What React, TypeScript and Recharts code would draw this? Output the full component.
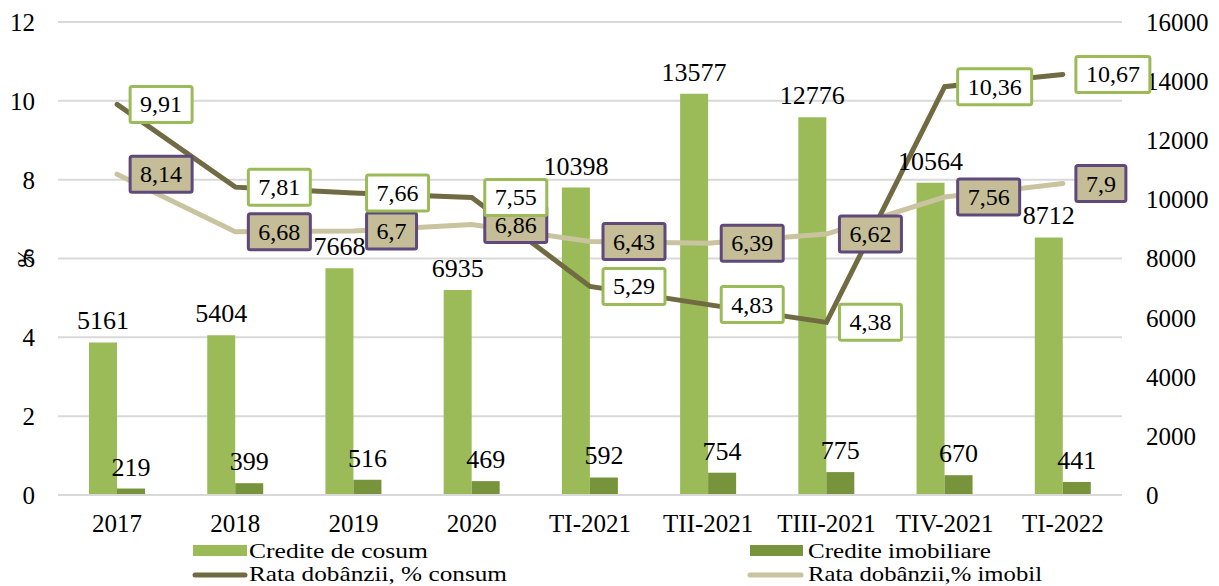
import React from 'react';
import { ComposedChart, Bar, Line, XAxis, YAxis, CartesianGrid, LabelList } from 'recharts';

// ---------------- DATA ----------------
const periods = ['2017', '2018', '2019', '2020', 'TI-2021', 'TII-2021', 'TIII-2021', 'TIV-2021', 'TI-2022'];
const crediteConsum = [5161, 5404, 7668, 6935, 10398, 13577, 12776, 10564, 8712];
const crediteImobiliare = [219, 399, 516, 469, 592, 754, 775, 670, 441];
const rataConsum = [9.91, 7.81, 7.66, 7.55, 5.29, 4.83, 4.38, 10.36, 10.67];
const rataImobil = [8.14, 6.68, 6.7, 6.86, 6.43, 6.39, 6.62, 7.56, 7.9];
const leftTicks = [0, 2, 4, 6, 8, 10, 12];
const rightTicks = [0, 2000, 4000, 6000, 8000, 10000, 12000, 14000, 16000];

const data = periods.map((p, i) => ({
  name: p,
  consum: crediteConsum[i],
  imob: crediteImobiliare[i],
  rConsum: rataConsum[i],
  rImob: rataImobil[i],
}));

// ---------------- STYLE ----------------
const FONT = '"Liberation Serif", serif';
const C_LIGHT = '#9BBB59';
const C_DARK = '#77933C';
const C_LINE1 = '#716B44';
const C_LINE2 = '#C9C3A0';

const fmt = (v: number) => String(v).replace('.', ',');

// boxed label to the right of a line point
const BoxLabel = ({ x, y, value, fill, stroke }: any) => {
  if (x == null || y == null) return null;
  const txt = fmt(value);
  let w = 0;
  for (const ch of txt) w += ch === ',' ? 6 : 12;
  const bw = w + 20;
  const bx = x + 13;
  return (
    <g>
      <rect x={bx} y={y - 18} width={bw} height={36} fill={fill} stroke={stroke} strokeWidth={3} rx={2} />
      <text x={bx + bw / 2} y={y + 8} textAnchor="middle" fontFamily={FONT} fontSize={24} fill="#000">
        {txt}
      </text>
    </g>
  );
};

const tickStyle = { fill: '#000', fontSize: 25, fontFamily: FONT };

export default function App() {
  return (
    <div style={{ position: 'absolute', left: 0, top: 0, width: 1219, height: 586, background: '#fff' }}>
      <ComposedChart
        width={1219}
        height={586}
        data={data}
        margin={{ top: 22, right: 0, bottom: 51, left: 0 }}
        barSize={28}
        barGap={0}>
        <CartesianGrid horizontal vertical={false} stroke="#D9D9D9" strokeWidth={2} yAxisId="left" />
        <XAxis
          dataKey="name"
          axisLine={{ stroke: '#D9D9D9', strokeWidth: 2 }}
          tickLine={false}
          tickSize={0}
          tickMargin={19}
          height={40}
          tick={tickStyle}
          interval={0}
        />
        <YAxis
          yAxisId="left"
          domain={[0, 12]}
          ticks={leftTicks}
          width={58}
          axisLine={false}
          tickLine={false}
          tickSize={0}
          tickMargin={23}
          tick={tickStyle}
        />
        <YAxis
          yAxisId="right"
          orientation="right"
          domain={[0, 16000]}
          ticks={rightTicks}
          width={97}
          axisLine={false}
          tickLine={false}
          tickSize={0}
          tickMargin={24}
          tick={{ ...tickStyle, textAnchor: 'start' }}
        />
        <Bar yAxisId="right" dataKey="consum" fill={C_LIGHT} isAnimationActive={false}>
          <LabelList dataKey="consum" position="top" offset={13} fill="#000" fontSize={26} fontFamily={FONT} />
        </Bar>
        <Bar yAxisId="right" dataKey="imob" fill={C_DARK} isAnimationActive={false}>
          <LabelList dataKey="imob" position="top" offset={13} fill="#000" fontSize={26} fontFamily={FONT} />
        </Bar>
        <Line
          yAxisId="left"
          dataKey="rImob"
          stroke={C_LINE2}
          strokeWidth={5}
          dot={false}
          strokeLinecap="round"
          isAnimationActive={false}
          label={(p: any) => <BoxLabel {...p} fill="#C4BD97" stroke="#5F497A" />}
        />
        <Line
          yAxisId="left"
          dataKey="rConsum"
          stroke={C_LINE1}
          strokeWidth={5}
          dot={false}
          strokeLinecap="round"
          isAnimationActive={false}
          label={(p: any) => <BoxLabel {...p} fill="#FFFFFF" stroke={C_LIGHT} />}
        />
      </ComposedChart>

      {/* axis title + legend */}
      <svg
        width={1219}
        height={586}
        style={{ position: 'absolute', left: 0, top: 0, pointerEvents: 'none' }}
        fontFamily={FONT}
        fontSize={21}>
        <text x={25} y={266} fontSize={23} textAnchor="middle" transform="rotate(-90 25 258)" fill="#000">
          %
        </text>
        <rect x={193} y={545} width={54} height={11} fill={C_LIGHT} />
        <text x={249} y={558} textLength={179} lengthAdjust="spacingAndGlyphs" fill="#000">
          Credite de cosum
        </text>
        <rect x={750} y={545} width={53} height={11} fill={C_DARK} />
        <text x={808} y={558} textLength={183} lengthAdjust="spacingAndGlyphs" fill="#000">
          Credite imobiliare
        </text>
        <line x1={195} y1={575} x2={245} y2={575} stroke={C_LINE1} strokeWidth={5} strokeLinecap="round" />
        <text x={249} y={581} textLength={258} lengthAdjust="spacingAndGlyphs" fill="#000">
          Rata dobânzii, % consum
        </text>
        <line x1={750} y1={575} x2={801} y2={575} stroke={C_LINE2} strokeWidth={5} strokeLinecap="round" />
        <text x={808} y={581} textLength={234} lengthAdjust="spacingAndGlyphs" fill="#000">
          Rata dobânzii,% imobil
        </text>
      </svg>
    </div>
  );
}
